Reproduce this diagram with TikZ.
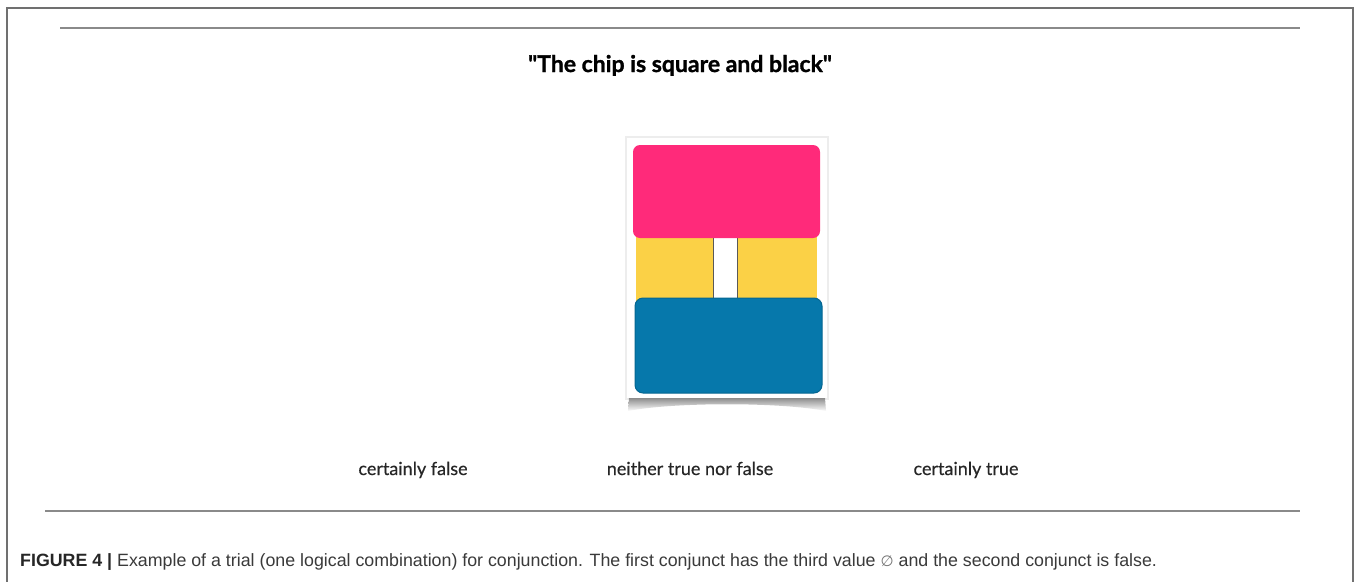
\documentclass[tikz,border=0pt]{standalone}
\usepackage{fontspec}
\setmainfont{Lato}
\newfontfamily\titlefont[BoldFeatures={FakeBold=1.2}]{Lato}
\newfontfamily\labelfont[FakeBold=0.4]{Lato}
\newfontfamily\capfont{Liberation Sans}
\newfontfamily\symfont{DejaVu Sans}

\definecolor{chippink}{HTML}{FF2A7A}
\definecolor{chipyellow}{HTML}{FBD146}
\definecolor{chipblue}{HTML}{0678AB}
\definecolor{rulegray}{HTML}{8A8A8A}
\definecolor{framegray}{HTML}{707070}
\definecolor{captext}{HTML}{3A3A3A}

\begin{document}
\begin{tikzpicture}[x=1pt,y=-1pt,
  rulestyle/.style={draw=rulegray, line width=2.5pt},
  answer/.style={font=\labelfont\fontsize{18}{20}\selectfont, text=black!85, anchor=base, inner sep=0pt},
  titlestyle/.style={font=\titlefont\fontsize{23}{26}\selectfont\bfseries, text=black, anchor=base, inner sep=0pt},
  capstyle/.style={font=\capfont\fontsize{17.8}{20}\selectfont, text=captext, anchor=base west, inner sep=0pt},
]
\useasboundingbox (0,0) rectangle (1357,581);
\fill[white] (0,0) rectangle (1357,581);

% outer frame
\draw[framegray, line width=1.5pt] (7,590) -- (7,8) -- (1353,8) -- (1353,590);

% horizontal rules
\draw[rulestyle] (60,28) -- (1300,28);
\draw[rulestyle] (45,511) -- (1300,511);

% statement
\node[titlestyle] (title) at (680,72) {\char34 The chip is square and black\char34};

% chip card with soft rim and curled shadow
\fill[black!7] (625,136) rectangle (829,400);
\fill[white] (627,138) rectangle (827,398);
\shade[top color=black!45, bottom color=white]
  (629,398) -- (825,398) -- (826,411) .. controls (780,402) and (674,402) .. (628,411) -- cycle;

% middle band with the empty slot
\fill[chipyellow] (636,234) rectangle (713,302);
\fill[chipyellow] (738,234) rectangle (817,302);
\fill[white] (713,238) rectangle (738,300);
\draw[black!65, line width=1.8pt] (713.5,238) -- (713.5,300);
\draw[black!65, line width=1.8pt] (737.5,238) -- (737.5,300);

% upper and lower parts
\fill[chippink, rounded corners=7pt] (633,145) rectangle (820,238);
\filldraw[fill=chipblue, draw=chipblue!85!black, line width=1pt, rounded corners=8pt] (635,298) rectangle (822,393);

% answer scale
\node[answer] (lfalse) at (413,475) {certainly false};
\node[answer] (lneither) at (690,475) {neither true nor false};
\node[answer] (ltrue) at (966,475) {certainly true};

% caption
\node[capstyle] (caption) at (20,566) {{\bfseries\color{black!85}FIGURE 4 |} Example of a trial (one logical combination) for conjunction. The first conjunct has the third value {\symfont\color{black!55}\fontsize{15}{17}\selectfont ∅} and the second conjunct is false.};
\end{tikzpicture}
\end{document}
